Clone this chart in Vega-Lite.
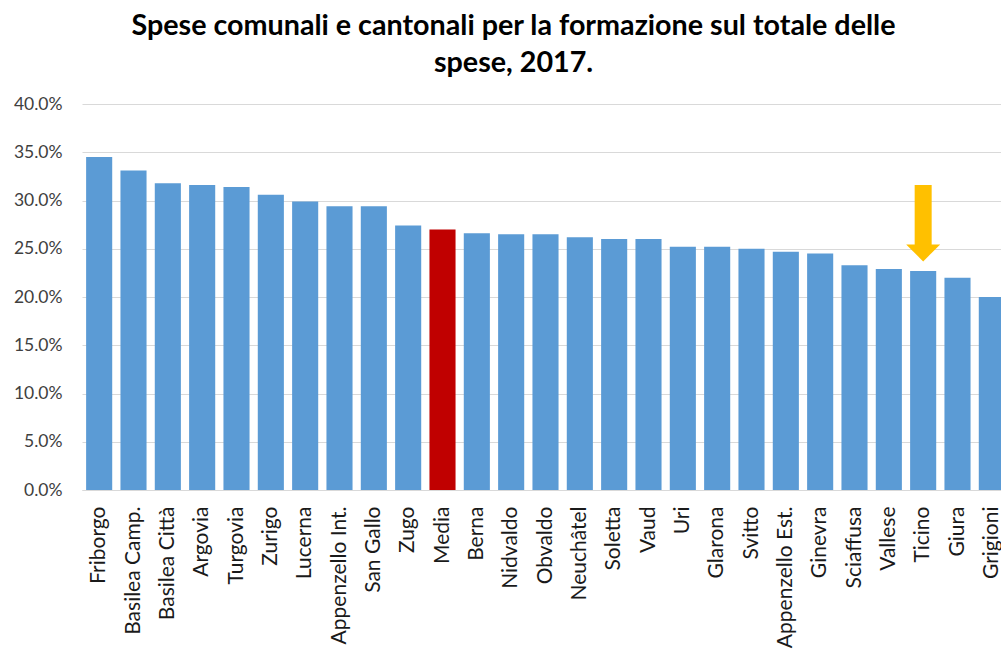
{
  "$schema": "https://vega.github.io/schema/vega-lite/v6.json",
  "autosize": {"type": "none"},
  "width": 919,
  "height": 386,
  "padding": {"left": 82, "top": 104, "right": 0, "bottom": 161},
  "background": "white",
  "title": {
    "text": ["Spese comunali e cantonali per la formazione sul totale delle", "spese, 2017."],
    "font": "Lato",
    "fontSize": 28.7,
    "fontWeight": "bold",
    "color": "#000000",
    "lineHeight": 37,
    "anchor": "middle",
    "frame": "group",
    "dx": -28,
    "offset": 17
  },
  "config": {
    "view": {"stroke": null},
    "axis": {"labelFont": "Lato", "labelColor": "#404040", "labelFontSize": 17.5}
  },
  "layer": [
    {
      "data": {
        "values": [
          {"cantone": "Friborgo", "quota": 0.345, "tipo": "Cantone"},
          {"cantone": "Basilea Camp.", "quota": 0.331, "tipo": "Cantone"},
          {"cantone": "Basilea Città", "quota": 0.318, "tipo": "Cantone"},
          {"cantone": "Argovia", "quota": 0.316, "tipo": "Cantone"},
          {"cantone": "Turgovia", "quota": 0.314, "tipo": "Cantone"},
          {"cantone": "Zurigo", "quota": 0.306, "tipo": "Cantone"},
          {"cantone": "Lucerna", "quota": 0.299, "tipo": "Cantone"},
          {"cantone": "Appenzello Int.", "quota": 0.294, "tipo": "Cantone"},
          {"cantone": "San Gallo", "quota": 0.294, "tipo": "Cantone"},
          {"cantone": "Zugo", "quota": 0.274, "tipo": "Cantone"},
          {"cantone": "Media", "quota": 0.270, "tipo": "Media"},
          {"cantone": "Berna", "quota": 0.266, "tipo": "Cantone"},
          {"cantone": "Nidvaldo", "quota": 0.265, "tipo": "Cantone"},
          {"cantone": "Obvaldo", "quota": 0.265, "tipo": "Cantone"},
          {"cantone": "Neuchâtel", "quota": 0.262, "tipo": "Cantone"},
          {"cantone": "Soletta", "quota": 0.260, "tipo": "Cantone"},
          {"cantone": "Vaud", "quota": 0.260, "tipo": "Cantone"},
          {"cantone": "Uri", "quota": 0.252, "tipo": "Cantone"},
          {"cantone": "Glarona", "quota": 0.252, "tipo": "Cantone"},
          {"cantone": "Svitto", "quota": 0.250, "tipo": "Cantone"},
          {"cantone": "Appenzello Est.", "quota": 0.247, "tipo": "Cantone"},
          {"cantone": "Ginevra", "quota": 0.245, "tipo": "Cantone"},
          {"cantone": "Sciaffusa", "quota": 0.233, "tipo": "Cantone"},
          {"cantone": "Vallese", "quota": 0.229, "tipo": "Cantone"},
          {"cantone": "Ticino", "quota": 0.227, "tipo": "Cantone"},
          {"cantone": "Giura", "quota": 0.220, "tipo": "Cantone"},
          {"cantone": "Grigioni", "quota": 0.200, "tipo": "Cantone"}
        ]
      },
      "mark": {"type": "bar"},
      "encoding": {
        "x": {
          "field": "cantone",
          "type": "nominal",
          "sort": null,
          "scale": {"range": [0, 927], "paddingInner": 0.24, "paddingOuter": 0.12},
          "axis": {
            "title": null,
            "labelAngle": -90,
            "labelAlign": "right",
            "labelBaseline": "middle",
            "labelPadding": 16,
            "labelFontSize": 21,
            "labelColor": "#1a1a1a",
            "ticks": false,
            "domainColor": "#d9d9d9",
            "domainWidth": 1,
            "labelOverlap": false
          }
        },
        "y": {
          "field": "quota",
          "type": "quantitative",
          "scale": {"domain": [0, 0.4]},
          "axis": {
            "title": null,
            "format": ".1%",
            "values": [0, 0.05, 0.1, 0.15, 0.2, 0.25, 0.3, 0.35, 0.4],
            "ticks": false,
            "domain": false,
            "labelPadding": 20,
            "gridColor": "#d9d9d9",
            "gridWidth": 1
          }
        },
        "color": {
          "field": "tipo",
          "type": "nominal",
          "scale": {"domain": ["Cantone", "Media"], "range": ["#5b9bd5", "#c00000"]},
          "legend": null
        }
      }
    },
    {
      "data": {"values": [{"cantone": "Ticino", "cima": 0.316, "base": 0.254}]},
      "mark": {"type": "rule", "color": "#ffc000", "strokeWidth": 17, "strokeCap": "butt"},
      "encoding": {
        "x": {"field": "cantone", "type": "nominal", "sort": null},
        "y": {"field": "cima", "type": "quantitative"},
        "y2": {"field": "base"}
      }
    },
    {
      "data": {"values": [{"cantone": "Ticino", "base": 0.2545}]},
      "mark": {"type": "point", "shape": "M-1,0L1,0L0,1Z", "size": 1156, "filled": true, "color": "#ffc000", "opacity": 1, "strokeWidth": 0},
      "encoding": {
        "x": {"field": "cantone", "type": "nominal", "sort": null},
        "y": {"field": "base", "type": "quantitative"}
      }
    }
  ]
}
